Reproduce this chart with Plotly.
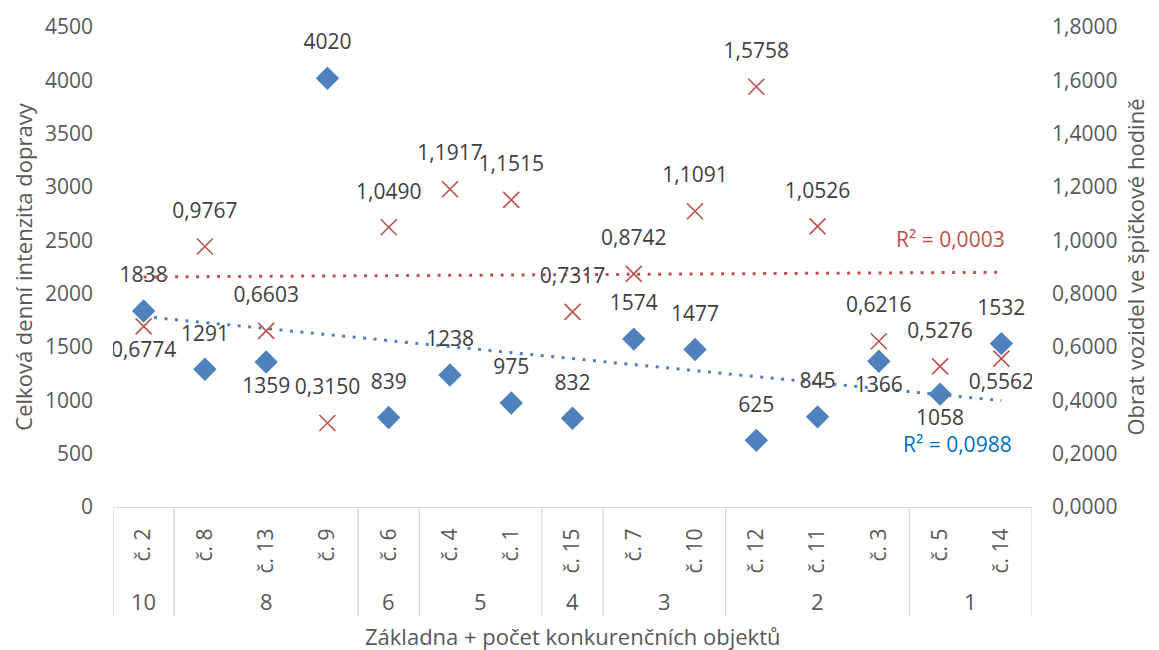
import numpy as np
import plotly.graph_objects as go

# Categories: branch (level 1) and number of competing objects (level 2)
branches = ["č. 2", "č. 8", "č. 13", "č. 9", "č. 6", "č. 4", "č. 1", "č. 15",
            "č. 7", "č. 10", "č. 12", "č. 11", "č. 3", "č. 5", "č. 14"]
competitors = ["10", "8", "8", "8", "6", "5", "5", "4",
               "3", "3", "2", "2", "2", "1", "1"]

# Total daily traffic intensity (left axis)
traffic = [1838, 1291, 1359, 4020, 839, 1238, 975, 832,
           1574, 1477, 625, 845, 1366, 1058, 1532]
# Vehicle turnover in the peak hour (right axis)
turnover = [0.6774, 0.9767, 0.6603, 0.3150, 1.0490, 1.1917, 1.1515, 0.7317,
            0.8742, 1.1091, 1.5758, 1.0526, 0.6216, 0.5276, 0.5562]

# Label placement per point
traffic_lbl_pos = ["top", "top", "bottom", "top", "top", "top", "top", "top",
                   "top", "top", "top", "top", "bottom", "bottom", "top"]
turnover_lbl_pos = ["bottom", "top", "top", "top", "top", "top", "top", "top",
                    "top", "top", "top", "top", "top", "top", "bottom"]

BLUE = "#4F81BD"
RED = "#C0504D"
LABEL = "#404040"
AXIS = "#595959"
FONT = "Open Sans"
FS = 22

x = np.arange(len(branches))


def linear_trend(values):
    vals = np.asarray(values, dtype=float)
    slope, icpt = np.polyfit(x, vals, 1)
    fit = slope * x + icpt
    r2 = 1 - np.sum((vals - fit) ** 2) / np.sum((vals - vals.mean()) ** 2)
    return fit, r2


trend_t, r2_t = linear_trend(traffic)
trend_o, r2_o = linear_trend(turnover)


def fmt4(v):
    return f"{v:.4f}".replace(".", ",")


fig = go.Figure()

# Trend lines (dotted)
fig.add_trace(go.Scatter(x=x, y=trend_t, mode="lines", yaxis="y",
                         line=dict(color=BLUE, width=3, dash="3px,7.5px"),
                         hoverinfo="skip", showlegend=False))
fig.add_trace(go.Scatter(x=x, y=trend_o, mode="lines", yaxis="y2",
                         line=dict(color=RED, width=3, dash="3px,7.5px"),
                         hoverinfo="skip", showlegend=False))

# Markers
fig.add_trace(go.Scatter(x=x, y=traffic, mode="markers", yaxis="y",
                         marker=dict(symbol="diamond", size=18, color=BLUE,
                                     line=dict(width=0)),
                         showlegend=False))
fig.add_trace(go.Scatter(x=x, y=turnover, mode="markers", yaxis="y2",
                         marker=dict(symbol="x-thin", size=16,
                                     line=dict(color=RED, width=1.6)),
                         showlegend=False))


def label_trace(values, positions, texts, axis):
    sizes = [36 if p == "top" else 22 for p in positions]
    return go.Scatter(x=x, y=values, mode="markers+text", yaxis=axis,
                      text=texts, textposition=[p + " center" for p in positions],
                      textfont=dict(family=FONT, size=FS - 1, color=LABEL),
                      marker=dict(size=sizes, opacity=0),
                      hoverinfo="skip", showlegend=False)


fig.add_trace(label_trace(traffic, traffic_lbl_pos, [str(v) for v in traffic], "y"))
fig.add_trace(label_trace(turnover, turnover_lbl_pos, [fmt4(v) for v in turnover], "y2"))

# Group dividers and group labels under the category axis
GRID = "#D9D9D9"
shapes = []
annotations = []
bounds = [0]
for i in range(1, len(competitors)):
    if competitors[i] != competitors[i - 1]:
        bounds.append(i)
bounds.append(len(competitors))
for b in bounds:
    shapes.append(dict(type="line", xref="x", yref="paper", x0=b - 0.5, x1=b - 0.5,
                       y0=0, y1=-0.227, line=dict(color=GRID, width=1.3)))
for a, b in zip(bounds[:-1], bounds[1:]):
    annotations.append(dict(xref="x", yref="paper", x=(a + b - 1) / 2, y=-0.196,
                            text=competitors[a], showarrow=False, yanchor="middle",
                            font=dict(family=FONT, size=FS, color=AXIS)))

# Category axis title
annotations.append(dict(xref="paper", yref="paper", x=0.5, y=-0.2686,
                        text="Základna + počet konkurenčních objektů",
                        showarrow=False, yanchor="middle",
                        font=dict(family=FONT, size=FS, color=AXIS)))

# R² labels of the trend lines
annotations.append(dict(xref="x", yref="y2", x=14.1, y=trend_o[-1] + 0.123,
                        text=f"R² = {fmt4(r2_o)}", showarrow=False, xanchor="right",
                        yanchor="middle",
                        font=dict(family=FONT, size=FS - 1, color=RED)))
annotations.append(dict(xref="x", yref="y", x=14.2, y=trend_t[-1] - 410,
                        text=f"R² = {fmt4(r2_t)}", showarrow=False, xanchor="right",
                        yanchor="middle",
                        font=dict(family=FONT, size=FS - 1, color="#0070C0")))

fig.update_layout(
    width=1159, height=650,
    margin=dict(l=113, r=127, t=23, b=143),
    paper_bgcolor="white", plot_bgcolor="white",
    separators=",.",
    font=dict(family=FONT, size=FS, color=AXIS),
    xaxis=dict(range=[-0.5, len(branches) - 0.5], tickvals=x, ticktext=branches,
               tickangle=-90, showgrid=False, zeroline=False,
               showline=True, linecolor=GRID, linewidth=1.3, ticks="",
               ticklabelstandoff=12,
               tickfont=dict(family=FONT, size=FS - 1, color=AXIS)),
    yaxis=dict(range=[0, 4500], dtick=500, showgrid=False, zeroline=False,
               showline=False, ticks="", ticklabelstandoff=19,
               tickfont=dict(family=FONT, size=FS - 1, color=AXIS),
               title=dict(text="Celková denní intenzita dopravy",
                          font=dict(family=FONT, size=FS, color=AXIS),
                          standoff=6)),
    yaxis2=dict(range=[0, 1.8], dtick=0.2, tickformat=".4f", overlaying="y",
                side="right", showgrid=False, zeroline=False, showline=False,
                ticks="", ticklabelstandoff=19,
                tickfont=dict(family=FONT, size=FS - 1, color=AXIS),
                title=dict(text="Obrat vozidel ve špičkové hodině",
                           font=dict(family=FONT, size=FS, color=AXIS),
                           standoff=12)),
    shapes=shapes,
    annotations=annotations,
    showlegend=False,
)

fig.write_html("out.html")
